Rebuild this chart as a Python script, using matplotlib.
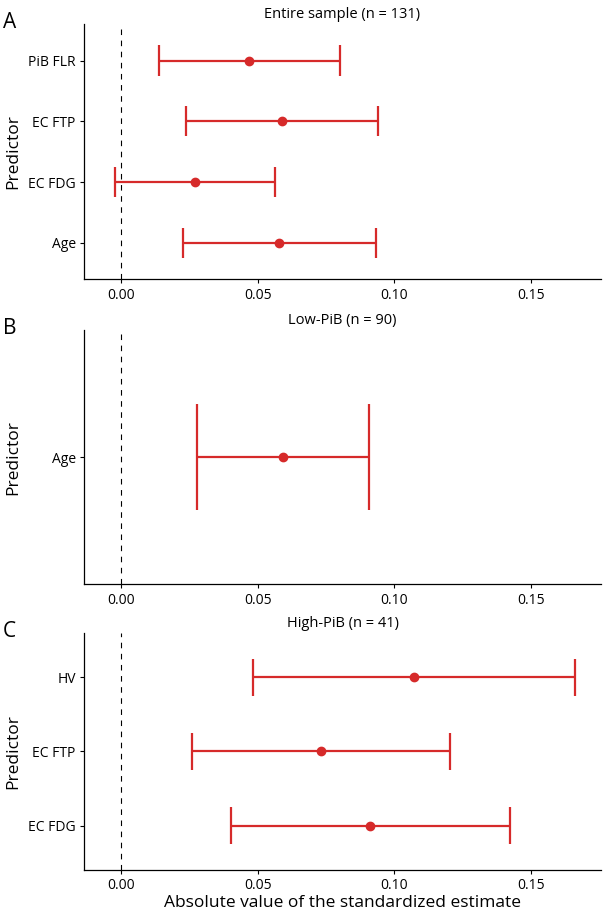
import numpy as np
import matplotlib
matplotlib.use('Agg')
import matplotlib.pyplot as plt

plt.rcParams['font.family'] = ['Open Sans', 'DejaVu Sans']

red = '#d62a2a'

# Panel A: entire sample
a_title = 'Entire sample (n = 131)'
a_labels = ['Age', 'EC FDG', 'EC FTP', 'PiB FLR']
a_est = [0.0577, 0.0270, 0.0589, 0.0467]
a_low = [0.0225, -0.0024, 0.0236, 0.0137]
a_high = [0.0931, 0.0562, 0.0940, 0.0801]

# Panel B: low PiB
b_title = 'Low-PiB (n = 90)'
b_labels = ['Age']
b_est = [0.0592]
b_low = [0.0278]
b_high = [0.0906]

# Panel C: high PiB
c_title = 'High-PiB (n = 41)'
c_labels = ['EC FDG', 'EC FTP', 'HV']
c_est = [0.0912, 0.0732, 0.1071]
c_low = [0.0402, 0.0259, 0.0482]
c_high = [0.1422, 0.1202, 0.1661]

xticks = [0.00, 0.05, 0.10, 0.15]

fig = plt.figure(figsize=(6.03, 9.11), dpi=100)

left, width = 0.1393, 0.8574
boxes = [
    (0.6934, 0.2802),
    (0.3586, 0.2791),
    (0.0450, 0.2605),
]
panels = [
    ('A', a_title, a_labels, a_est, a_low, a_high),
    ('B', b_title, b_labels, b_est, b_low, b_high),
    ('C', c_title, c_labels, c_est, c_low, c_high),
]

for (bottom, height), (letter, title, labels, est, low, high) in zip(boxes, panels):
    ax = fig.add_axes([left, bottom, width, height])
    y = np.arange(1, len(labels) + 1)
    est = np.array(est)
    low = np.array(low)
    high = np.array(high)
    ax.axvline(0, color='black', lw=0.8, ls=(0, (5, 5)), zorder=1)
    ax.errorbar(est, y, xerr=[est - low, high - est], fmt='none',
                ecolor=red, elinewidth=1.6, capsize=0, zorder=2)
    # caps spanning 0.5 category units, like ggplot geom_errorbar(width=0.5)
    ax.vlines(low, y - 0.25, y + 0.25, color=red, lw=1.6, zorder=2)
    ax.vlines(high, y - 0.25, y + 0.25, color=red, lw=1.6, zorder=2)
    ax.plot(est, y, 'o', color=red, ms=6, zorder=3)

    ax.set_xlim(-0.0137, 0.1757)
    ax.set_ylim(0.4, len(labels) + 0.6)
    ax.set_xticks(xticks)
    ax.set_xticklabels(['%.2f' % t for t in xticks])
    ax.set_yticks(y)
    ax.set_yticklabels(labels)
    ax.tick_params(labelsize=10, length=3, width=0.8, colors='black', pad=3)
    for s in ['top', 'right']:
        ax.spines[s].set_visible(False)
    for s in ['left', 'bottom']:
        ax.spines[s].set_linewidth(0.9)
    ax.set_title(title, fontsize=10.5, pad=4)
    ax.set_ylabel('Predictor', fontsize=12.5)
    ax.yaxis.set_label_coords(-0.121, 0.5)
    fig.text(0.005, bottom + height - 4 / 911, letter, fontsize=15, va='baseline', ha='left')

ax.set_xlabel('Absolute value of the standardized estimate', fontsize=12.5, labelpad=1)

fig.savefig('out.png', dpi=100)
